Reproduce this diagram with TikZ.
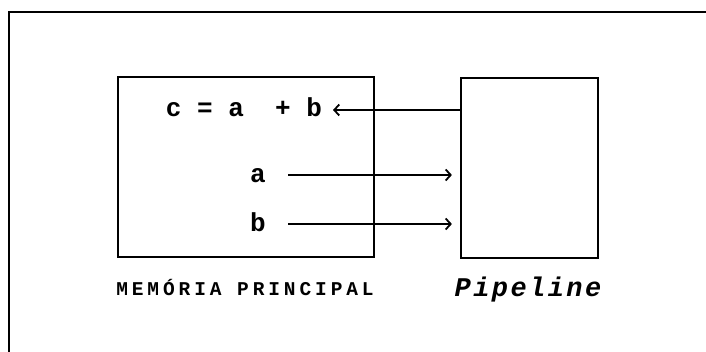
\documentclass[tikz,border=0pt]{standalone}
\usepackage{fontspec}
\usetikzlibrary{arrows.meta}
\newfontfamily\monof{Liberation Mono}
\newfontfamily\monocaps[LetterSpace=20]{Liberation Mono}
\newfontfamily\monoit[LetterSpace=9]{Liberation Mono}
\begin{document}
\begin{tikzpicture}[x=1pt,y=-1pt,
  boxst/.style={draw, line width=2.2pt, inner sep=0pt},
  txt/.style={inner sep=0pt, anchor=base, font=\monof\bfseries\fontsize{26}{30}\selectfont},
  arr/.style={line width=2pt, -{Straight Barb[length=5pt,width=11pt,line width=1.8pt]}},
  frame/.style={line width=2.2pt}]
\useasboundingbox (0,0) rectangle (706,352);
% outer frame (top and left edges)
\coordinate (ftl) at (9,12);
\coordinate (ftr) at (706,12);
\coordinate (fbl) at (9,352);
\draw[frame] (fbl) -- (ftl) -- (ftr);
% boxes
\node[boxst, minimum width=256pt, minimum height=180pt] (mem) at (246,167) {};
\node[boxst, minimum width=137pt, minimum height=180pt] (pipe) at (529.5,168) {};
% texts
\node[txt] (cab) at (244,117) {c = a\ \ + b};
\node[txt] (a) at (258,183) {a};
\node[txt] (b) at (258,232) {b};
\node[inner sep=0pt, anchor=base, font=\monocaps\bfseries\fontsize{19.5}{22}\selectfont] (memlbl) at (245,295) {MEMÓRIA PRINCIPAL};
\node[inner sep=0pt, anchor=base, font=\monoit\bfseries\itshape\fontsize{27}{30}\selectfont] (pipelbl) at (528,297) {Pipeline};
% connectors
\coordinate (cabin) at (333,110);
\coordinate (ain) at (288,175);
\coordinate (bin) at (288,224);
\draw[arr] (pipe.west |- cabin) -- (cabin);
\draw[arr] (ain) -- ([xshift=-8pt]pipe.west |- ain);
\draw[arr] (bin) -- ([xshift=-8pt]pipe.west |- bin);
\end{tikzpicture}
\end{document}
